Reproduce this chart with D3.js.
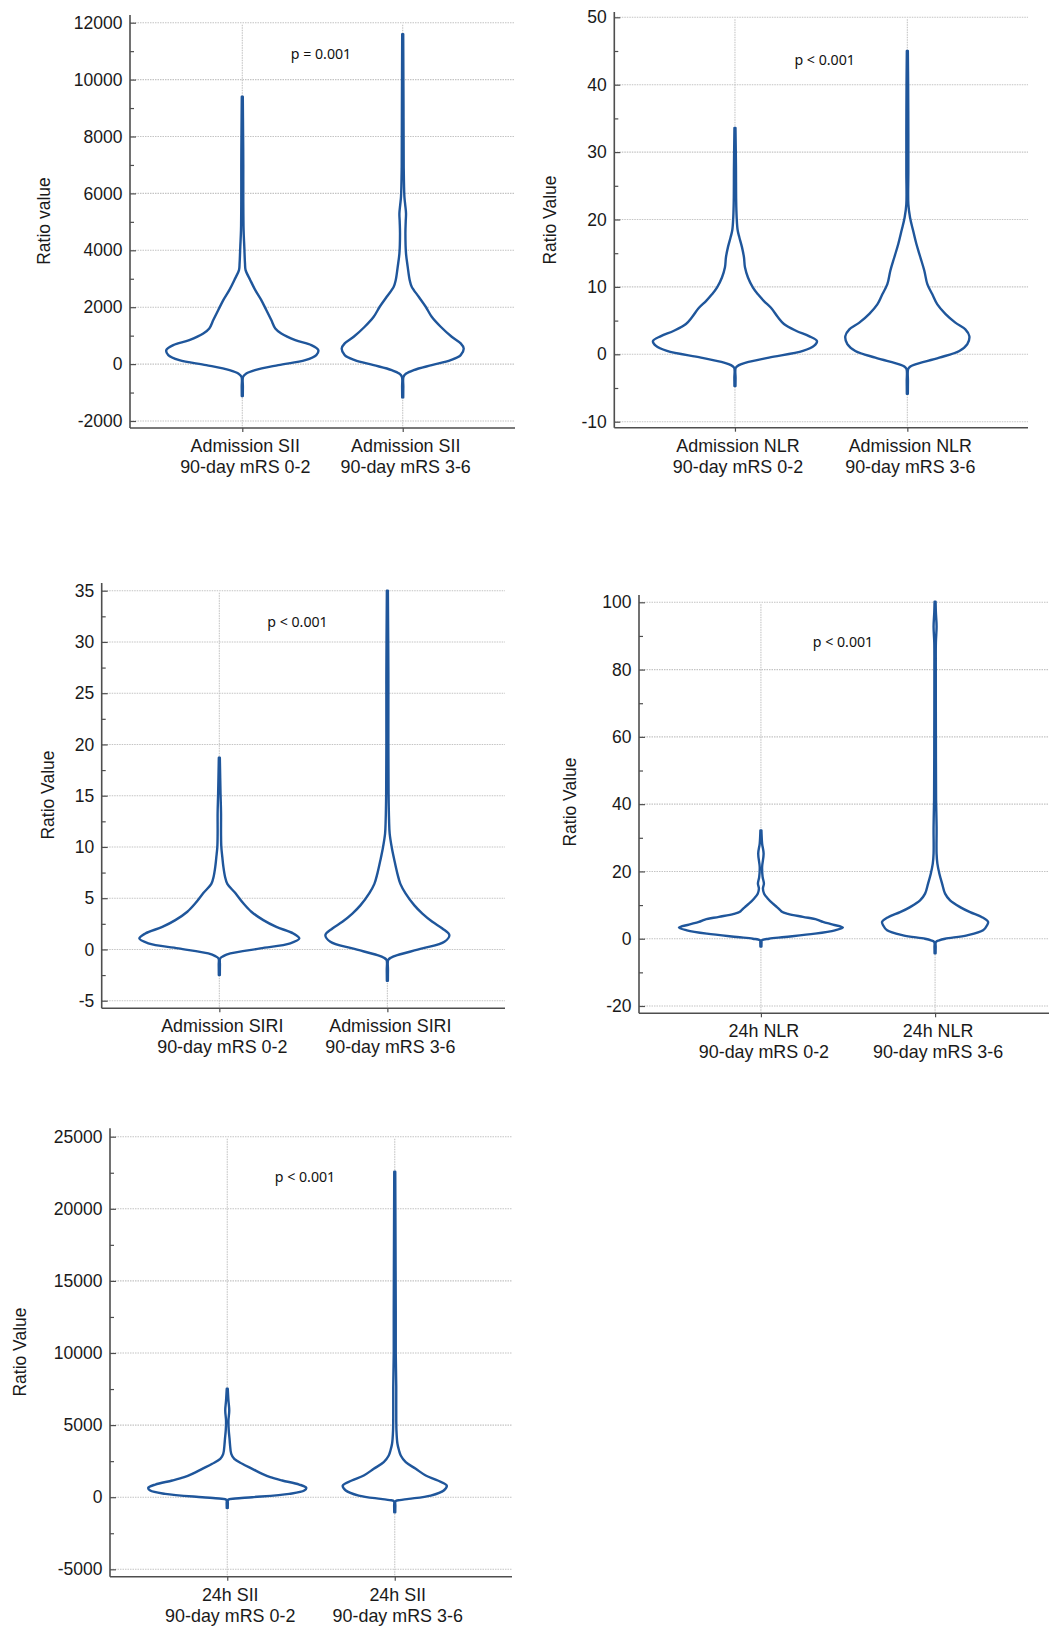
<!DOCTYPE html>
<html>
<head>
<meta charset="utf-8">
<script src="https://cdn.jsdelivr.net/npm/d3@7"></script>
<style>
  html, body { margin: 0; padding: 0; background: #fff; }
  svg { display: block; }
</style>
</head>
<body>
<svg id="chart" width="1049" height="1639"></svg>
<script>
// ---------------- DATA ----------------
const outcomeGroups = ["90-day mRS 0-2", "90-day mRS 3-6"];
const markerNames = ["Admission SII", "Admission NLR", "Admission SIRI", "24h NLR", "24h SII"];
const pTexts = ["p = 0.001", "p < 0.001", "p < 0.001", "p < 0.001", "p < 0.001"];
const yTitles = ["Ratio value", "Ratio Value", "Ratio Value", "Ratio Value", "Ratio Value"];

const admSiiTicks = [-2000, 0, 2000, 4000, 6000, 8000, 10000, 12000];
const admNlrTicks = [-10, 0, 10, 20, 30, 40, 50];
const admSiriTicks = [-5, 0, 5, 10, 15, 20, 25, 30, 35];
const h24NlrTicks = [-20, 0, 20, 40, 60, 80, 100];
const h24SiiTicks = [-5000, 0, 5000, 10000, 15000, 20000, 25000];

// Violin profiles: value levels and relative kernel density at each level
const admSiiGoodValues  = [-1125, -800, -445, -330, -211, -35, 140, 316, 492, 668, 844, 1078, 1254, 1547, 1900, 2250, 2600, 2950, 3305, 3540, 4125, 4710, 5766, 7000, 8110, 9400];
const admSiiGoodDensity = [0.5, 0.6, 0.8, 4, 12.7, 36, 63, 74, 76, 69, 53, 39, 33, 29, 24, 19, 13, 8, 3.3, 2.7, 2, 1.3, 1, 1, 0.8, 0.5];
const admSiiPoorValues  = [-1170, -800, -445, -330, -211, -35, 140, 316, 550, 727, 961, 1313, 1664, 2016, 2367, 2720, 2950, 3420, 3890, 4594, 5000, 5297, 5600, 5883, 6938, 9000, 11600];
const admSiiPoorDensity = [0.5, 0.6, 0.8, 3.5, 11, 29, 48, 58, 61, 58, 49, 38, 29, 23, 16, 9, 7, 5, 3.3, 2.7, 3, 3.3, 2.5, 1.7, 1, 0.8, 0.5];

const admNlrGoodValues  = [-4.7, -3.5, -2.0, -1.6, -1.24, -0.5, 0.5, 1.24, 1.98, 2.7, 3.5, 4.5, 5.5, 6.9, 7.9, 8.9, 9.9, 11.4, 12.9, 14.4, 15.9, 17.4, 18.4, 20.3, 22.8, 27.8, 33.6];
const admNlrGoodDensity = [0.5, 0.6, 0.8, 4, 11, 34, 68, 79, 82, 74, 61, 49, 43, 36, 29, 23, 18, 13, 10, 9, 7, 4.3, 2.7, 1.7, 1.2, 1.0, 0.5];
const admNlrPoorValues  = [-5.85, -4, -2.2, -1.8, -1.5, -0.5, 0.5, 1.5, 2.7, 3.7, 4.7, 6.0, 7.4, 8.9, 10.4, 12.4, 14.4, 16.4, 18.4, 20.3, 22.3, 27, 32.7, 40, 45];
const admNlrPoorDensity = [0.5, 0.6, 0.8, 3, 8, 32, 52, 60, 62, 58, 48, 38, 30, 25, 20, 17, 13, 9, 5.7, 2.7, 1, 1, 1, 0.8, 0.5];

const admSiriGoodValues  = [-2.5, -1.5, -0.88, -0.65, -0.39, 0.1, 0.59, 1.07, 1.56, 2.2, 2.86, 3.68, 4.5, 5.5, 6.4, 7.1, 8.1, 9.0, 10.0, 11.3, 13.3, 15.2, 18.7];
const admSiriGoodDensity = [0.5, 0.6, 0.8, 4, 11, 41, 71, 80, 74, 57, 44, 32, 24, 16, 8, 5.7, 4, 3, 2, 1.7, 1.7, 1.2, 0.5];
const admSiriPoorValues  = [-3.06, -2, -1.04, -0.8, -0.55, 0.1, 0.75, 1.4, 2.05, 2.7, 3.5, 4.3, 5.5, 6.4, 7.4, 8.7, 10.0, 11.3, 12.6, 15.2, 20, 27, 35];
const admSiriPoorDensity = [0.5, 0.6, 0.8, 3.5, 10, 35, 57, 62, 55, 45, 35, 27, 18, 13, 10, 7, 4.3, 2.3, 1.7, 1.2, 1, 1, 0.5];

const h24NlrGoodValues  = [-2.3, -1.2, -0.5, 0, 0.5, 1.5, 2.5, 3.3, 4.2, 5.0, 5.7, 6.5, 7.4, 8.0, 8.6, 9.4, 10.4, 11.9, 13.4, 14.9, 16.4, 18.4, 21.3, 25.3, 28.3, 32.2];
const h24NlrGoodDensity = [0.5, 0.6, 0.8, 8, 24, 54, 74, 82, 72, 62, 56, 42, 27, 21, 19, 16, 12, 7, 3.2, 2, 3, 1.7, 1.2, 2.7, 1.2, 0.5];
const h24NlrPoorValues  = [-4.3, -2.5, -1.0, -0.5, 0, 1.0, 2.5, 4.0, 5.0, 6.4, 7.9, 9.4, 11.4, 13.4, 16.4, 19.3, 22.3, 25.3, 33.2, 41.2, 60, 80, 88, 92.8, 97, 100.2];
const h24NlrPoorDensity = [0.5, 0.6, 0.8, 4, 10, 32, 48, 52, 53, 47, 35, 25, 15, 10, 7, 4.3, 2.3, 1.5, 1.5, 1, 0.8, 0.7, 0.8, 1.5, 0.8, 0.5];

const h24SiiGoodValues  = [-740, -400, -185, -90, 0, 231, 463, 648, 880, 1157, 1389, 1620, 1968, 2315, 2662, 3010, 3704, 4050, 4630, 5300, 6019, 6700, 7520];
const h24SiiGoodDensity = [0.5, 0.6, 0.8, 8, 25, 62, 77, 79, 72, 55, 43, 35, 25, 15, 7, 4, 2.7, 2.3, 1.5, 1.2, 2, 1.2, 0.5];
const h24SiiPoorValues  = [-1040, -600, -280, -200, -115, 115, 463, 810, 1157, 1505, 1968, 2430, 2894, 3240, 3704, 4630, 6019, 7640, 10000, 12965, 17000, 22570];
const h24SiiPoorDensity = [0.5, 0.6, 0.8, 5, 14, 36, 49, 52, 43, 31, 21, 11, 6, 4.3, 2.7, 1.7, 1.5, 1.5, 1, 1, 0.8, 0.5];

// ---------------- LAYOUT ----------------
const panels = [
  { ticks: admSiiTicks, violins: [[admSiiGoodValues, admSiiGoodDensity], [admSiiPoorValues, admSiiPoorDensity]],
    left: 130, right: 515, axisTop: 15, axisBottom: 428, yLo: 421, yHi: 22.7, maxHW: 76,
    titleX: 43.7, titleY: 221, pX: 321, pY: 59 },
  { ticks: admNlrTicks, violins: [[admNlrGoodValues, admNlrGoodDensity], [admNlrPoorValues, admNlrPoorDensity]],
    left: 614.3, right: 1028, axisTop: 12, axisBottom: 427.7, yLo: 421.7, yHi: 17.3, maxHW: 82,
    titleX: 549.5, titleY: 220, pX: 824.7, pY: 65 },
  { ticks: admSiriTicks, violins: [[admSiriGoodValues, admSiriGoodDensity], [admSiriPoorValues, admSiriPoorDensity]],
    left: 101.7, right: 505, axisTop: 583, axisBottom: 1008.3, yLo: 1000.7, yHi: 590.7, maxHW: 80,
    titleX: 47.5, titleY: 795, pX: 297.5, pY: 626.7 },
  { ticks: h24NlrTicks, violins: [[h24NlrGoodValues, h24NlrGoodDensity], [h24NlrPoorValues, h24NlrPoorDensity]],
    left: 639, right: 1057, axisTop: 595, axisBottom: 1013.3, yLo: 1006, yHi: 602.3, maxHW: 82,
    titleX: 569.5, titleY: 802, pX: 843, pY: 647.3 },
  { ticks: h24SiiTicks, violins: [[h24SiiGoodValues, h24SiiGoodDensity], [h24SiiPoorValues, h24SiiPoorDensity]],
    left: 110, right: 512, axisTop: 1128.3, axisBottom: 1576.7, yLo: 1569.3, yHi: 1136.7, maxHW: 79,
    titleX: 19.5, titleY: 1352, pX: 305, pY: 1181.7 }
];

const svg = d3.select("#chart");
svg.append("rect").attr("width", 1049).attr("height", 1639).attr("fill", "#fff");

const labelFont = "'Liberation Sans', Arial, sans-serif";
const labelSize = 17.5;
const catLabelSize = 17.9;
const violinColor = "#1f569b";
const gridColor = "#c4c4c4";
const axisColor = "#4e4e4e";
const textColor = "#1a1a1a";

panels.forEach((p, i) => {
  const g = svg.append("g");
  const x = d3.scalePoint().domain(outcomeGroups).range([p.left, p.right]).padding(0.7);
  const y = d3.scaleLinear().domain([p.ticks[0], p.ticks[p.ticks.length - 1]]).range([p.yLo, p.yHi]);
  const minorTicks = p.ticks.slice(0, -1).map((t, k) => (t + p.ticks[k + 1]) / 2);

  // horizontal grid
  g.append("g").selectAll("line").data(p.ticks).join("line")
    .attr("x1", p.left).attr("x2", p.right)
    .attr("y1", d => y(d)).attr("y2", d => y(d))
    .attr("stroke", gridColor).attr("stroke-width", 1.1).attr("stroke-dasharray", "1.5,1");

  // vertical grid at categories
  g.append("g").selectAll("line").data(outcomeGroups).join("line")
    .attr("x1", d => x(d)).attr("x2", d => x(d))
    .attr("y1", p.yHi + 2).attr("y2", p.axisBottom)
    .attr("stroke", gridColor).attr("stroke-width", 1.1).attr("stroke-dasharray", "1.5,1");

  // violins
  const allDens = p.violins.flatMap(v => v[1]);
  const w = d3.scaleLinear().domain([0, d3.max(allDens)]).range([0, p.maxHW]);
  p.violins.forEach((v, k) => {
    const cx = x(outcomeGroups[k]);
    const pts = v[0].map((val, j) => ({ v: val, d: v[1][j] }));
    const area = d3.area()
      .y(d => y(d.v))
      .x0(d => cx - w(d.d))
      .x1(d => cx + w(d.d))
      .curve(d3.curveCatmullRom.alpha(0.5));
    g.append("path").datum(pts).attr("d", area)
      .attr("fill", "#fff").attr("stroke", violinColor)
      .attr("stroke-width", 2.4).attr("stroke-linejoin", "round");
  });

  // y axis: major ticks (inward) with labels, minor ticks
  const yAxis = d3.axisLeft(y).tickValues(p.ticks).tickSizeInner(-6).tickSizeOuter(0).tickPadding(7.5)
    .tickFormat(d3.format("d"));
  const ya = g.append("g").attr("transform", `translate(${p.left},0)`).call(yAxis);
  ya.select(".domain").remove();
  ya.selectAll(".tick line").attr("stroke", axisColor).attr("stroke-width", 1.2);
  ya.selectAll(".tick text").attr("font-family", labelFont).attr("font-size", labelSize).attr("fill", textColor)
    .text(d => d < 0 ? "-" + Math.abs(d) : d);

  const yMinor = d3.axisLeft(y).tickValues(minorTicks).tickSizeInner(-4).tickSizeOuter(0).tickFormat("");
  const ym = g.append("g").attr("transform", `translate(${p.left},0)`).call(yMinor);
  ym.select(".domain").remove();
  ym.selectAll(".tick line").attr("stroke", axisColor).attr("stroke-width", 1.2);

  // x axis ticks
  const xAxis = d3.axisBottom(x).tickSizeInner(4).tickSizeOuter(0).tickFormat("");
  const xa = g.append("g").attr("transform", `translate(0,${p.axisBottom})`).call(xAxis);
  xa.select(".domain").remove();
  xa.selectAll(".tick line").attr("stroke", axisColor).attr("stroke-width", 1.2);

  // axis lines
  g.append("line").attr("x1", p.left).attr("x2", p.left).attr("y1", p.axisTop).attr("y2", p.axisBottom)
    .attr("stroke", axisColor).attr("stroke-width", 1.6);
  g.append("line").attr("x1", p.left).attr("x2", p.right).attr("y1", p.axisBottom).attr("y2", p.axisBottom)
    .attr("stroke", axisColor).attr("stroke-width", 1.6);

  // category labels (two lines)
  outcomeGroups.forEach(grp => {
    const t = g.append("text").attr("text-anchor", "middle")
      .attr("font-family", labelFont).attr("font-size", catLabelSize).attr("fill", textColor);
    t.append("tspan").attr("x", x(grp) + 3).attr("y", p.axisBottom + 24).text(markerNames[i]);
    t.append("tspan").attr("x", x(grp) + 3).attr("y", p.axisBottom + 45).text(grp);
  });

  // y title
  g.append("text")
    .attr("transform", `translate(${p.titleX},${p.titleY}) rotate(-90)`)
    .attr("text-anchor", "middle").attr("dominant-baseline", "central")
    .attr("font-family", labelFont).attr("font-size", labelSize).attr("fill", textColor)
    .text(yTitles[i]);

  // p value annotation
  g.append("text").attr("x", p.pX).attr("y", p.pY).attr("text-anchor", "middle")
    .attr("font-family", "'Noto Sans', 'Open Sans', sans-serif").attr("font-size", 14.2).attr("fill", "#111")
    .text(pTexts[i]);
});
</script>
</body>
</html>
